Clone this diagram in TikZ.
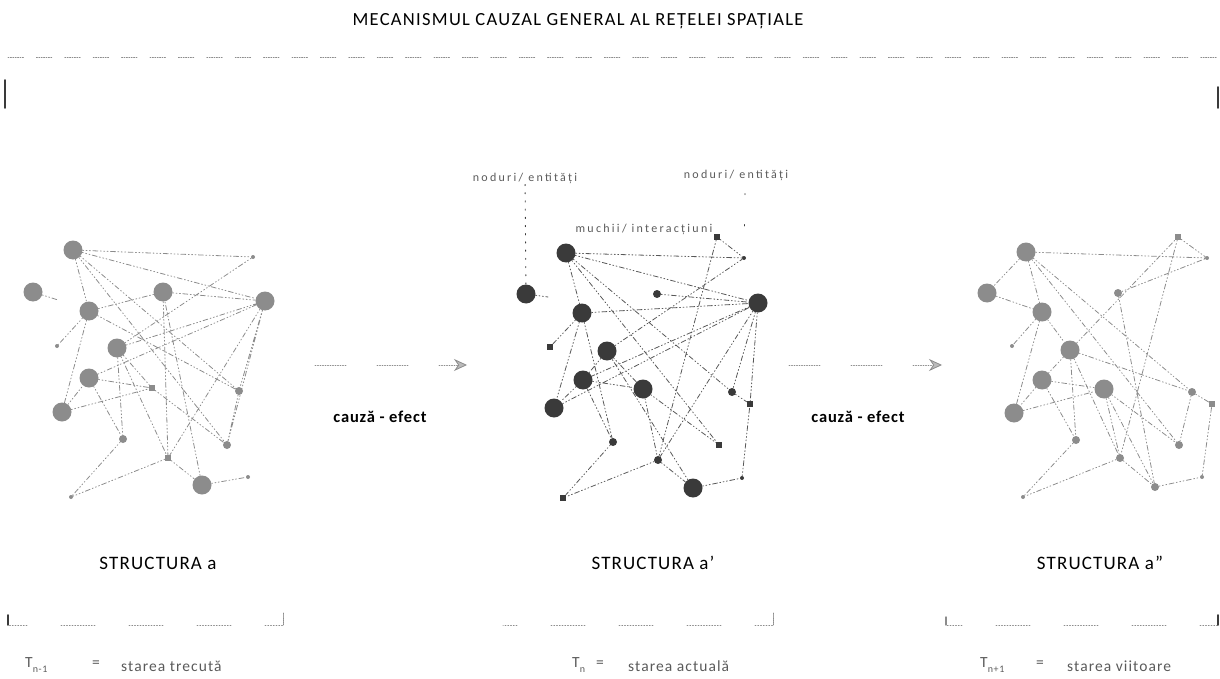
\documentclass[tikz,border=0pt]{standalone}
\usepackage{fontspec}
\setmainfont{Carlito}
\usetikzlibrary{arrows.meta,positioning}

\definecolor{netgray}{HTML}{8C8C8C}
\definecolor{netdark}{HTML}{3A3A3A}
\definecolor{txtgray}{HTML}{5A5A5A}

\tikzset{
  big/.style={circle,fill=#1,inner sep=0pt,minimum size=19pt},
  sml/.style={circle,fill=#1,inner sep=0pt,minimum size=8pt},
  sqr/.style={rectangle,fill=#1,inner sep=0pt,minimum size=6pt},
  tiny/.style={circle,fill=#1,inner sep=0pt,minimum size=4pt},
  link/.style={draw=#1,line width=0.8pt,dash pattern=on 1pt off 2.4pt on 1pt off 2.4pt on 1pt off 2.4pt on 5pt off 2.4pt},
  sparse/.style 2 args={draw=#1,line width=0.9pt,dash pattern=on 1.2pt off #2},
  segline/.style={draw=netgray,line width=0.8pt,dash pattern=on 1pt off 1.5pt on 1pt off 1.5pt on 1pt off 1.5pt on 1pt off 1.5pt on 1pt off 1.5pt on 1pt off 1.5pt on 1pt off 1.5pt on 1pt off 1.5pt on 1pt off 1.5pt on 1pt off 1.5pt on 1pt off 1.5pt on 1pt off 1.5pt on 1pt off 31pt},
  brack/.style={draw=netgray,line width=0.8pt,dash phase=#1,dash pattern=on 1pt off 1.75pt on 1pt off 1.75pt on 1pt off 1.75pt on 1pt off 1.75pt on 1pt off 1.75pt on 1pt off 1.75pt on 1pt off 1.75pt on 1pt off 1.75pt on 1pt off 1.75pt on 1pt off 1.75pt on 1pt off 1.75pt on 1pt off 1.75pt on 1pt off 34pt},
  topline/.style={draw=netgray,line width=0.8pt,dash pattern=on 1pt off 1.4pt on 1pt off 1.4pt on 1pt off 1.4pt on 1pt off 1.4pt on 1pt off 1.4pt on 1pt off 1.4pt on 1pt off 13pt},
  bigarrow/.style={segline,-{Stealth[length=13pt,width=12pt,fill=netgray!60]}},
  lbl/.style={font=\fontsize{12}{14}\selectfont\addfontfeatures{LetterSpace=19},text=txtgray,inner sep=1pt},
  stitle/.style={font=\fontsize{19}{22}\selectfont\addfontfeatures{LetterSpace=6}},
  cause/.style={font=\bfseries\fontsize{16.5}{19}\selectfont\addfontfeatures{LetterSpace=5}},
  state/.style={font=\fontsize{15.5}{18}\selectfont\addfontfeatures{LetterSpace=7},text=txtgray,inner sep=0pt}
}

\begin{document}
\begin{tikzpicture}[x=1pt,y=-1pt,line cap=round,line join=round]
\useasboundingbox (0,0) rectangle (1220,679);

\node[font=\fontsize{18.5}{22}\selectfont\addfontfeatures{LetterSpace=7}] (title) at (578,21) {MECANISMUL CAUZAL GENERAL AL REȚELEI SPAȚIALE};
\coordinate (tl) at (8,57);
\coordinate (tr) at (1220,57);
\draw[topline] (tl) -- (tr);
\draw[netdark,line width=1.8pt] (5,80) -- (5,108);
\draw[netdark,line width=1.8pt] (1218,87) -- (1218,108);

% structura a
\node[big=netgray] (a1) at (73,250) {};
\node[big=netgray] (a2) at (33,292) {};
\node[big=netgray] (a3) at (163,292) {};
\node[big=netgray] (a4) at (265,301) {};
\node[big=netgray] (a5) at (89,311) {};
\node[big=netgray] (a6) at (117,348) {};
\node[big=netgray] (a7) at (89,378) {};
\node[big=netgray] (a8) at (62,412) {};
\node[big=netgray] (a9) at (202,485) {};
\node[tiny=netgray] (s1) at (253,257) {};
\node[sqr=netgray] (s2) at (152,388) {};
\node[sml=netgray] (s3) at (239,391) {};
\node[sml=netgray] (s4) at (123,439) {};
\node[sml=netgray] (s5) at (227,445) {};
\node[sqr=netgray] (s6) at (168,458) {};
\node[tiny=netgray] (s7) at (71,497) {};
\node[tiny=netgray] (s8) at (248,477) {};
\node[tiny=netgray] (s9) at (57,346) {};
\coordinate (s10) at (58,300);
\draw[link=netgray] (a1) -- (s1) (a1) -- (a4) (a1) -- (a5) (a1) -- (s3) (a1) -- (s5)
  (a2) -- (s10) (a3) -- (a4) (a3) -- (s6) (a5) -- (a3) (a5) -- (a8) (a5) -- (s9) (a5) -- (s3)
  (a6) -- (a4) (a6) -- (s2) (a6) -- (s4) (a6) -- (s6) (a7) -- (a4) (a7) -- (s2) (a7) -- (s4)
  (a8) -- (a7) (a8) -- (s2) (a4) -- (s3) (a4) -- (s5) (a4) -- (s6) (s1) -- (a6) (s2) -- (s5)
  (s6) -- (a9) (s6) -- (s7) (s4) -- (s7) (a9) -- (s8) (a9) -- (a3) (s3) -- (s5);

% structura a'
\node[big=netdark] (b1) at (566,253) {};
\node[big=netdark] (b2) at (526,294) {};
\node[big=netdark] (b3) at (582,313) {};
\node[big=netdark] (b4) at (758,303) {};
\node[big=netdark] (b5) at (607,351) {};
\node[big=netdark] (b6) at (583,380) {};
\node[big=netdark] (b7) at (643,389) {};
\node[big=netdark] (b8) at (554,408) {};
\node[big=netdark] (b9) at (693,488) {};
\node[sml=netdark] (m1) at (657,294) {};
\node[sqr=netdark] (m2) at (717,237) {};
\node[tiny=netdark] (m3) at (744,258) {};
\node[sqr=netdark] (m4) at (550,347) {};
\node[sml=netdark] (m5) at (732,392) {};
\node[sqr=netdark] (m6) at (750,404) {};
\node[sml=netdark] (m7) at (613,442) {};
\node[sqr=netdark] (m8) at (719,445) {};
\node[sml=netdark] (m9) at (658,460) {};
\node[sqr=netdark] (m10) at (563,498) {};
\node[tiny=netdark] (m11) at (742,478) {};
\coordinate (m12) at (548,297);
\draw[link=netdark!85] (b1) -- (m3) (b1) -- (b4) (b1) -- (b3) (b1) -- (m8) (b1) -- (m5)
  (b2) -- (m12) (b3) -- (b4) (m1) -- (b4) (b3) -- (m4) (b3) -- (b8) (b3) -- (m7)
  (m2) -- (m3) (m2) -- (m9) (b5) -- (m3) (b4) -- (m5) (b4) -- (m6) (b4) -- (b6) (b4) -- (m9)
  (b5) -- (b6) (b5) -- (b7) (b6) -- (b8) (b6) -- (b7) (b6) -- (m7) (b8) -- (b4) (b7) -- (m9)
  (b7) -- (m8) (m7) -- (m10) (m9) -- (m10) (m9) -- (b9) (b9) -- (m11) (m11) -- (m6) (m5) -- (m6)
  (b9) -- (b5);
\node[lbl] (nod1) at (525,178) {noduri/ entități};
\node[lbl] (nod2) at (736,175) {noduri/ entități};
\node[lbl] (much) at (644,229) {muchii/ interacțiuni};
\draw[sparse={netdark}{7pt}] (nod1) -- (b2);
\draw[sparse={netdark}{30pt}] (nod2.south) ++(9,12) coordinate (p2) (p2) -- (m3);

% structura a''
\node[big=netgray] (c1) at (1026,252) {};
\node[big=netgray] (c2) at (987,293) {};
\node[big=netgray] (c3) at (1042,312) {};
\node[big=netgray] (c4) at (1070,350) {};
\node[big=netgray] (c5) at (1042,380) {};
\node[big=netgray] (c6) at (1104,389) {};
\node[big=netgray] (c7) at (1014,413) {};
\node[sqr=netgray] (d1) at (1178,237) {};
\node[tiny=netgray] (d2) at (1207,258) {};
\node[sml=netgray] (d3) at (1118,293) {};
\node[tiny=netgray] (d4) at (1012,346) {};
\node[sml=netgray] (d5) at (1192,392) {};
\node[sqr=netgray] (d6) at (1212,404) {};
\node[sml=netgray] (d7) at (1076,440) {};
\node[sml=netgray] (d8) at (1179,445) {};
\node[sml=netgray] (d9) at (1120,458) {};
\node[sml=netgray] (d10) at (1155,487) {};
\node[tiny=netgray] (d11) at (1202,477) {};
\node[tiny=netgray] (d12) at (1023,497) {};
\draw[link=netgray] (c1) -- (d2) (c1) -- (c2) (c1) -- (c3) (c1) -- (d8) (c1) -- (d5)
  (c2) -- (c3) (c3) -- (d4) (c3) -- (c7) (c3) -- (c4) (d3) -- (d2) (c4) -- (d1) (d1) -- (d9)
  (d1) -- (d2) (c4) -- (d5) (c4) -- (c5) (c4) -- (d7) (c4) -- (d9) (c5) -- (c6) (c5) -- (c7)
  (c5) -- (d7) (c7) -- (c6) (c6) -- (d9) (c6) -- (d8) (c6) -- (d10) (d7) -- (d12) (d9) -- (d12)
  (d9) -- (d10) (d10) -- (d11) (d11) -- (d6) (d5) -- (d6) (d5) -- (d8) (d3) -- (d10);

% cauza - efect
\coordinate (ar1s) at (315,365);
\coordinate (ar1e) at (467,365);
\coordinate (ar2s) at (789,365);
\coordinate (ar2e) at (942,365);
\draw[bigarrow] (ar1s) -- (ar1e);
\draw[bigarrow] (ar2s) -- (ar2e);
\node[cause] (ce1) at (380,417) {cauză - efect};
\node[cause] (ce2) at (858,417) {cauză - efect};

\node[stitle] (st1) at (158,563) {STRUCTURA a};
\node[stitle] (st2) at (653,563) {STRUCTURA a'};
\node[stitle] (st3) at (1100,563) {STRUCTURA a''};

% stari
\foreach \l/\r/\ph [count=\i] in {8/283/15, 503/773/20, 946/1218/18}{
  \coordinate (bl\i) at (\l,625);
  \coordinate (br\i) at (\r,625);
  \draw[brack=\ph] (bl\i) -- (br\i);
}
\draw[netgray,line width=0.9pt,densely dotted] (br1) -- ++(0,-12);
\draw[netgray,line width=0.9pt,densely dotted] (br2) -- ++(0,-12);
\draw[netdark,line width=1.6pt] (bl1) -- ++(0,-10);
\draw[netgray,line width=1.4pt] (bl3) -- ++(0,-8);
\draw[netdark,line width=1.8pt] (br3) -- ++(0,-10);

\node[state,anchor=west] (tn1) at (25,665) {T\raisebox{-5pt}{\fontsize{10}{12}\selectfont n-1}};
\node[state] (eq1) at (96,664) {=};
\node[state,anchor=west] (st1txt) at (121,666) {starea trecută};
\node[state,anchor=west] (tn2) at (572,665) {T\raisebox{-5pt}{\fontsize{10}{12}\selectfont n}};
\node[state] (eq2) at (600,664) {=};
\node[state,anchor=west] (st2txt) at (628,666) {starea actuală};
\node[state,anchor=west] (tn3) at (980,665) {T\raisebox{-5pt}{\fontsize{10}{12}\selectfont n+1}};
\node[state] (eq3) at (1040,664) {=};
\node[state,anchor=west] (st3txt) at (1067,666) {starea viitoare};
\end{tikzpicture}
\end{document}
